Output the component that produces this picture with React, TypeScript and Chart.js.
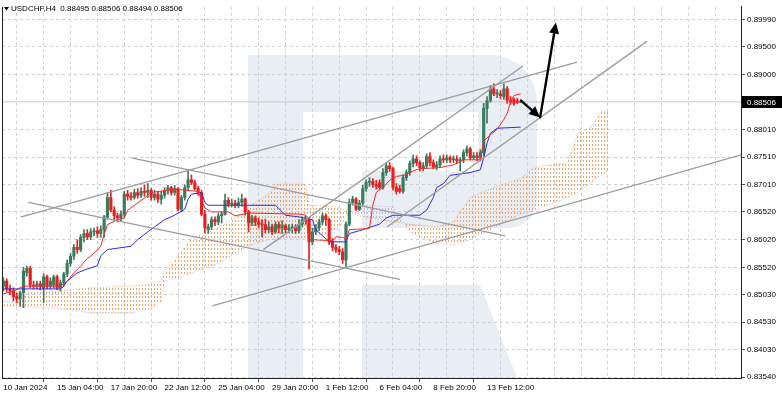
import React, { useEffect, useRef } from "react";
import { Chart, registerables } from "chart.js";

Chart.register(...registerables);

// ---------- text ----------
const titleText = "USDCHF,H4  0.88495 0.88506 0.88494 0.88506";
const timeLabels = [
  "10 Jan 2024", "15 Jan 04:00", "17 Jan 20:00", "22 Jan 12:00", "25 Jan 04:00",
  "29 Jan 20:00", "1 Feb 12:00", "6 Feb 04:00", "8 Feb 20:00", "13 Feb 12:00",
];
const labelEvery = 16;
const gridEvery = 8;
const priceTicks = [0.8999, 0.895, 0.89, 0.8801, 0.8751, 0.8701, 0.8652, 0.8602, 0.8552, 0.8503, 0.8453, 0.8403, 0.8354];
const lastPrice = 0.88506;
const xMin = -0.4;
const xMax = 219.6;
const yMin = 0.83522;
const yMax = 0.90222;

// ---------- candles (H4 bars, index 0 = 10 Jan 08:00) ----------
const opens = [
  0.8518, 0.8527, 0.8513, 0.8509, 0.8499, 0.8495, 0.8506, 0.8542, 0.8550, 0.8520,
  0.8518, 0.8522, 0.8515, 0.8535, 0.8518, 0.8520, 0.8535, 0.8515, 0.8524, 0.8540,
  0.8559, 0.8572, 0.8588, 0.8584, 0.8606, 0.8613, 0.8607, 0.8616, 0.8618, 0.8613,
  0.8620, 0.8643, 0.8678, 0.8655, 0.8645, 0.8641, 0.8648, 0.8684, 0.8680, 0.8678,
  0.8687, 0.8682, 0.8689, 0.8687, 0.8691, 0.8678, 0.8684, 0.8675, 0.8682, 0.8691,
  0.8696, 0.8687, 0.8694, 0.8657, 0.8678, 0.8696, 0.8710, 0.8705, 0.8694, 0.8687,
  0.8648, 0.8620, 0.8625, 0.8638, 0.8634, 0.8645, 0.8648, 0.8673, 0.8666, 0.8668,
  0.8664, 0.8669, 0.8675, 0.8652, 0.8632, 0.8641, 0.8634, 0.8630, 0.8629, 0.8620,
  0.8625, 0.8616, 0.8629, 0.8623, 0.8627, 0.8620, 0.8622, 0.8625, 0.8618, 0.8630,
  0.8636, 0.8638, 0.8598, 0.8616, 0.8623, 0.8634, 0.8645, 0.8638, 0.8598, 0.8588,
  0.8584, 0.8580, 0.8565, 0.8630, 0.8669, 0.8675, 0.8657, 0.8668, 0.8694, 0.8705,
  0.8707, 0.8701, 0.8705, 0.8696, 0.8723, 0.8735, 0.8730, 0.8696, 0.8694, 0.8689,
  0.8714, 0.8723, 0.8739, 0.8748, 0.8741, 0.8732, 0.8735, 0.8752, 0.8741, 0.8733,
  0.8737, 0.8748, 0.8746, 0.8750, 0.8746, 0.8748, 0.8744, 0.8746, 0.8759, 0.8766,
  0.8750, 0.8753, 0.8750, 0.8759, 0.8839, 0.8853, 0.8874, 0.8865, 0.8865, 0.8860,
  0.8874, 0.8853, 0.8855, 0.8853, 0.88495,
];
const highs = [
  0.8533, 0.8531, 0.8520, 0.8515, 0.8506, 0.8509, 0.8552, 0.8554, 0.8554, 0.8527,
  0.8527, 0.8527, 0.8540, 0.8538, 0.8533, 0.8538, 0.8538, 0.8529, 0.8543, 0.8565,
  0.8577, 0.8593, 0.8602, 0.8611, 0.8620, 0.8620, 0.8622, 0.8623, 0.8625, 0.8627,
  0.8646, 0.8687, 0.8691, 0.8661, 0.8650, 0.8654, 0.8689, 0.8691, 0.8687, 0.8693,
  0.8694, 0.8696, 0.8701, 0.8703, 0.8694, 0.8691, 0.8689, 0.8689, 0.8696, 0.8700,
  0.8698, 0.8700, 0.8696, 0.8682, 0.8701, 0.8726, 0.8719, 0.8709, 0.8698, 0.8691,
  0.8655, 0.8630, 0.8643, 0.8643, 0.8650, 0.8652, 0.8684, 0.8678, 0.8675, 0.8673,
  0.8677, 0.8684, 0.8677, 0.8655, 0.8646, 0.8645, 0.8641, 0.8638, 0.8639, 0.8634,
  0.8630, 0.8634, 0.8634, 0.8636, 0.8630, 0.8629, 0.8630, 0.8629, 0.8638, 0.8643,
  0.8645, 0.8641, 0.8623, 0.8629, 0.8639, 0.8650, 0.8648, 0.8641, 0.8604, 0.8593,
  0.8590, 0.8586, 0.8634, 0.8675, 0.8680, 0.8678, 0.8673, 0.8700, 0.8710, 0.8714,
  0.8712, 0.8709, 0.8710, 0.8730, 0.8741, 0.8741, 0.8733, 0.8703, 0.8700, 0.8719,
  0.8728, 0.8744, 0.8755, 0.8753, 0.8744, 0.8741, 0.8757, 0.8759, 0.8746, 0.8743,
  0.8753, 0.8755, 0.8755, 0.8753, 0.8753, 0.8753, 0.8750, 0.8764, 0.8771, 0.8769,
  0.8759, 0.8759, 0.8764, 0.8848, 0.8860, 0.8880, 0.8883, 0.8873, 0.8871, 0.8883,
  0.8878, 0.8860, 0.8858, 0.8857, 0.88506,
];
const lows = [
  0.8509, 0.8508, 0.8502, 0.8491, 0.8488, 0.8482, 0.8479, 0.8536, 0.8515, 0.8513,
  0.8513, 0.8511, 0.8488, 0.8513, 0.8513, 0.8515, 0.8511, 0.8509, 0.8518, 0.8535,
  0.8554, 0.8566, 0.8577, 0.8580, 0.8598, 0.8602, 0.8602, 0.8609, 0.8606, 0.8606,
  0.8606, 0.8639, 0.8652, 0.8638, 0.8634, 0.8636, 0.8643, 0.8673, 0.8673, 0.8675,
  0.8677, 0.8678, 0.8680, 0.8678, 0.8673, 0.8673, 0.8669, 0.8666, 0.8677, 0.8684,
  0.8682, 0.8682, 0.8654, 0.8652, 0.8673, 0.8691, 0.8701, 0.8691, 0.8682, 0.8645,
  0.8614, 0.8613, 0.8620, 0.8627, 0.8629, 0.8632, 0.8646, 0.8661, 0.8661, 0.8659,
  0.8659, 0.8662, 0.8646, 0.8616, 0.8627, 0.8627, 0.8623, 0.8607, 0.8614, 0.8614,
  0.8611, 0.8613, 0.8614, 0.8613, 0.8614, 0.8614, 0.8614, 0.8613, 0.8614, 0.8625,
  0.8630, 0.8549, 0.8593, 0.8611, 0.8618, 0.8629, 0.8627, 0.8593, 0.8582, 0.8579,
  0.8575, 0.8559, 0.8552, 0.8627, 0.8664, 0.8654, 0.8654, 0.8664, 0.8689, 0.8698,
  0.8696, 0.8693, 0.8693, 0.8693, 0.8718, 0.8725, 0.8691, 0.8684, 0.8686, 0.8686,
  0.8709, 0.8718, 0.8733, 0.8735, 0.8726, 0.8726, 0.8730, 0.8735, 0.8730, 0.8728,
  0.8732, 0.8741, 0.8741, 0.8741, 0.8741, 0.8739, 0.8726, 0.8741, 0.8753, 0.8746,
  0.8746, 0.8744, 0.8744, 0.8753, 0.8812, 0.8850, 0.8862, 0.8858, 0.8857, 0.8855,
  0.8848, 0.8846, 0.8844, 0.8848, 0.88494,
];
const closes = [
  0.8527, 0.8513, 0.8509, 0.8499, 0.8495, 0.8506, 0.8545, 0.8550, 0.8520, 0.8518,
  0.8522, 0.8517, 0.8535, 0.8518, 0.8527, 0.8535, 0.8515, 0.8524, 0.8540, 0.8559,
  0.8572, 0.8588, 0.8584, 0.8606, 0.8613, 0.8607, 0.8616, 0.8618, 0.8613, 0.8620,
  0.8643, 0.8678, 0.8655, 0.8645, 0.8641, 0.8648, 0.8684, 0.8680, 0.8678, 0.8687,
  0.8682, 0.8689, 0.8687, 0.8691, 0.8678, 0.8684, 0.8675, 0.8682, 0.8691, 0.8696,
  0.8687, 0.8694, 0.8657, 0.8678, 0.8696, 0.8710, 0.8705, 0.8694, 0.8687, 0.8648,
  0.8623, 0.8625, 0.8638, 0.8634, 0.8645, 0.8648, 0.8673, 0.8666, 0.8668, 0.8664,
  0.8669, 0.8675, 0.8652, 0.8632, 0.8641, 0.8634, 0.8630, 0.8629, 0.8620, 0.8625,
  0.8616, 0.8629, 0.8623, 0.8627, 0.8620, 0.8623, 0.8625, 0.8618, 0.8630, 0.8638,
  0.8639, 0.8598, 0.8616, 0.8623, 0.8634, 0.8645, 0.8638, 0.8598, 0.8588, 0.8584,
  0.8580, 0.8566, 0.8630, 0.8669, 0.8675, 0.8657, 0.8668, 0.8694, 0.8705, 0.8707,
  0.8701, 0.8698, 0.8696, 0.8723, 0.8735, 0.8730, 0.8696, 0.8689, 0.8689, 0.8714,
  0.8723, 0.8739, 0.8748, 0.8741, 0.8732, 0.8735, 0.8752, 0.8741, 0.8733, 0.8737,
  0.8748, 0.8746, 0.8750, 0.8746, 0.8748, 0.8744, 0.8746, 0.8759, 0.8766, 0.8750,
  0.8753, 0.8750, 0.8759, 0.8839, 0.8853, 0.8874, 0.8865, 0.8866, 0.8862, 0.8874,
  0.8853, 0.8850, 0.8848, 0.88495, 0.88506,
];

// ---------- Ichimoku (breakpoints by bar index) ----------
const tenkanX = [0, 3, 6, 17, 19, 21, 23, 25, 27, 29, 30, 31, 34, 36, 37, 39, 42, 44, 51, 58, 60, 62, 67, 69, 73, 88, 90, 91, 98, 99, 101, 102, 103, 109, 110, 111, 113, 115, 117, 120, 122, 124, 130, 134, 137, 142, 143, 145, 147, 149, 150, 151, 152, 154];
const tenkanY = [0.8504, 0.8509, 0.8518, 0.8518, 0.8527, 0.8542, 0.8554, 0.8568, 0.8577, 0.8590, 0.8611, 0.8629, 0.8638, 0.8641, 0.8655, 0.8664, 0.8677, 0.8687, 0.8693, 0.8689, 0.8659, 0.8652, 0.8652, 0.8645, 0.8650, 0.8648, 0.8646, 0.8602, 0.8600, 0.8607, 0.8606, 0.8602, 0.8620, 0.8622, 0.8664, 0.8687, 0.8696, 0.8709, 0.8716, 0.8719, 0.8726, 0.8730, 0.8732, 0.8737, 0.8746, 0.8746, 0.8780, 0.8791, 0.8801, 0.8819, 0.8830, 0.8851, 0.8862, 0.8865];
const kijunX = [0, 17, 18, 19, 22, 25, 28, 29, 31, 38, 40, 43, 45, 48, 51, 54, 55, 56, 59, 60, 61, 81, 84, 88, 92, 93, 97, 102, 103, 106, 108, 112, 114, 116, 124, 126, 128, 129, 131, 133, 139, 142, 143, 144, 145, 147, 154];
const kijunY = [0.8513, 0.8513, 0.8518, 0.8527, 0.8542, 0.8549, 0.8555, 0.8573, 0.8584, 0.8590, 0.8602, 0.8616, 0.8625, 0.8638, 0.8646, 0.8657, 0.8675, 0.8684, 0.8687, 0.8669, 0.8664, 0.8664, 0.8646, 0.8643, 0.8638, 0.8620, 0.8598, 0.8598, 0.8613, 0.8618, 0.8622, 0.8630, 0.8641, 0.8646, 0.8646, 0.8655, 0.8678, 0.8696, 0.8703, 0.8718, 0.8723, 0.8728, 0.8750, 0.8776, 0.8794, 0.8803, 0.8805];
const cloudX = [0, 5, 7, 17, 26, 38, 44, 47, 48, 53, 56, 62, 66, 71, 73, 79, 81, 90, 91, 99, 103, 106, 116, 121, 129, 134, 139, 145, 154, 158, 168, 171, 175, 178, 180];
const spanA = [0.8491, 0.8488, 0.8506, 0.8509, 0.8515, 0.8518, 0.8522, 0.8527, 0.8545, 0.8580, 0.8604, 0.8618, 0.8630, 0.8648, 0.8661, 0.8684, 0.8702, 0.8702, 0.8664, 0.8661, 0.8652, 0.8645, 0.8634, 0.8630, 0.8625, 0.8634, 0.8678, 0.8694, 0.8712, 0.8732, 0.8741, 0.8794, 0.8805, 0.8833, 0.8835];
const spanB = [0.8482, 0.8481, 0.8481, 0.8477, 0.8470, 0.8470, 0.8477, 0.8491, 0.8527, 0.8535, 0.8542, 0.8554, 0.8566, 0.8584, 0.8591, 0.8602, 0.8603, 0.8606, 0.8606, 0.8616, 0.8652, 0.8664, 0.8661, 0.8616, 0.8595, 0.8593, 0.8602, 0.8620, 0.8648, 0.8655, 0.8678, 0.8687, 0.8705, 0.8719, 0.8726];

// ---------- drawn objects ----------
const lineStartX = [5.1, 62.2, 38.1, 7.4, 77.4, 114.2];
const lineStartY = [0.86427, 0.84823, 0.87496, 0.86694, 0.85839, 0.86248];
const lineEndX = [170.8, 219.6, 149.4, 118.1, 154.7, 191.6];
const lineEndY = [0.89224, 0.87549, 0.86088, 0.85304, 0.89153, 0.89598];
const arrowStartX = [154.1, 159.8];
const arrowStartY = [0.88529, 0.88226];
const arrowEndX = [159.8, 164.5];
const arrowEndY = [0.88226, 0.89937];

const BULL = "#3a7b5d";
const BEAR = "#ee1c1c";
const FONT = "'Liberation Sans', Arial, sans-serif";

function makePattern(color: string) {
  const c = document.createElement("canvas");
  c.width = 3;
  c.height = 4;
  const g = c.getContext("2d")!;
  g.fillStyle = color;
  g.fillRect(1, 0, 1, 2);
  return g.createPattern(c, "repeat");
}

const watermarkPlugin = {
  id: "watermark",
  beforeDraw(chart: any) {
    const { ctx, chartArea: a } = chart;
    ctx.save();
    ctx.beginPath();
    ctx.rect(a.left, a.top, a.right - a.left, a.bottom - a.top);
    ctx.clip();
    ctx.fillStyle = "#e9eef4";
    ctx.fillRect(248, 55, 55, 340);
    ctx.beginPath();
    ctx.moveTo(303, 55);
    ctx.lineTo(490, 55);
    ctx.arcTo(537, 55, 537, 102, 47);
    ctx.lineTo(537, 200);
    ctx.arcTo(537, 228, 509, 228, 28);
    ctx.lineTo(362, 228);
    ctx.lineTo(362, 171);
    ctx.lineTo(478, 171);
    ctx.lineTo(478, 112);
    ctx.lineTo(303, 112);
    ctx.closePath();
    ctx.fill();
    ctx.beginPath();
    ctx.moveTo(362, 285);
    ctx.lineTo(480, 285);
    ctx.lineTo(520, 385);
    ctx.lineTo(362, 385);
    ctx.closePath();
    ctx.fill();
    ctx.restore();
  },
};

const overlayPlugin = {
  id: "overlay",
  afterDatasetsDraw(chart: any) {
    const { ctx, scales } = chart;
    const xs = scales.x;
    const ys = scales.y;
    ctx.save();
    ctx.strokeStyle = "#000";
    ctx.fillStyle = "#000";
    ctx.lineWidth = 2.4;
    ctx.lineCap = "round";
    for (let k = 0; k < arrowStartX.length; k++) {
      const x1 = xs.getPixelForValue(arrowStartX[k]);
      const y1 = ys.getPixelForValue(arrowStartY[k]);
      const x2 = xs.getPixelForValue(arrowEndX[k]);
      const y2 = ys.getPixelForValue(arrowEndY[k]);
      const ang = Math.atan2(y2 - y1, x2 - x1);
      const len = 11;
      const hw = 5;
      const bx = x2 - Math.cos(ang) * len;
      const by = y2 - Math.sin(ang) * len;
      ctx.beginPath();
      ctx.moveTo(x1, y1);
      ctx.lineTo(bx, by);
      ctx.stroke();
      ctx.beginPath();
      ctx.moveTo(x2, y2);
      ctx.lineTo(bx - Math.sin(ang) * hw, by + Math.cos(ang) * hw);
      ctx.lineTo(bx + Math.sin(ang) * hw, by - Math.cos(ang) * hw);
      ctx.closePath();
      ctx.fill();
    }
    ctx.restore();
  },
  afterDraw(chart: any) {
    const { ctx, chartArea: a, scales } = chart;
    ctx.save();
    ctx.strokeStyle = "#222";
    ctx.lineWidth = 1;
    ctx.beginPath();
    ctx.moveTo(a.left + 0.5, a.top);
    ctx.lineTo(a.left + 0.5, a.bottom);
    ctx.stroke();
    ctx.fillStyle = "#000";
    ctx.beginPath();
    ctx.moveTo(4, 7);
    ctx.lineTo(9, 7);
    ctx.lineTo(6.5, 10.5);
    ctx.closePath();
    ctx.fill();
    ctx.font = "8px " + FONT;
    ctx.textBaseline = "middle";
    ctx.textAlign = "left";
    ctx.fillText(titleText, 11, 9);
    const yp = Math.round(scales.y.getPixelForValue(lastPrice));
    ctx.fillStyle = "#000";
    ctx.fillRect(a.right + 1, yp - 6, 41, 12);
    ctx.fillStyle = "#fff";
    ctx.fillText(lastPrice.toFixed(5), a.right + 6, yp + 0.5);
    ctx.restore();
  },
};

export default function App() {
  const ref = useRef<HTMLCanvasElement>(null);
  useEffect(() => {
    document.body.style.margin = "0";
    const canvas = ref.current!;
    const orange = makePattern("#f4a460");
    const lilac = makePattern("#c9b3e0");

    const candleColor = opens.map((o, i) => (closes[i] >= o ? BULL : BEAR));
    const wickData = opens.map((_, i) => ({ x: i, y: [lows[i], highs[i]] }));
    const bodyData = opens.map((o, i) => ({ x: i, y: [o, closes[i]] }));

    const lineDs = (xArr: number[], yArr: number[], color: string, extra: any = {}) => ({
      type: "line",
      data: xArr.map((x, k) => ({ x, y: yArr[k] })),
      borderColor: color,
      borderWidth: 1,
      pointRadius: 0,
      tension: 0,
      fill: false,
      ...extra,
    });

    const trendSets = lineStartX.map((_, k) => ({
      type: "line",
      data: [
        { x: lineStartX[k], y: lineStartY[k] },
        { x: lineEndX[k], y: lineEndY[k] },
      ],
      borderColor: "#9c9c9c",
      borderWidth: 1.3,
      pointRadius: 0,
      fill: false,
      order: 1,
    }));

    const chart = new Chart(canvas, {
      type: "bar",
      data: {
        datasets: [
          lineDs(cloudX, spanA, "#f4a460", { borderDash: [1, 2], order: 20 }),
          lineDs(cloudX, spanB, "#c9b3e0", {
            borderDash: [1, 2],
            order: 19,
            fill: { target: "-1", above: lilac, below: orange },
          }),
          {
            type: "line",
            data: [
              { x: xMin, y: lastPrice },
              { x: xMax, y: lastPrice },
            ],
            borderColor: "#c8c8c8",
            borderWidth: 1,
            pointRadius: 0,
            fill: false,
            order: 18,
          },
          {
            type: "bar",
            data: wickData,
            backgroundColor: candleColor,
            barThickness: 1,
            grouped: false,
            minBarLength: 1,
            order: 6,
          },
          {
            type: "bar",
            data: bodyData,
            backgroundColor: candleColor,
            barThickness: 2.5,
            grouped: false,
            minBarLength: 1,
            order: 5,
          },
          lineDs(tenkanX, tenkanY, "#f42a2a", { order: 3 }),
          lineDs(kijunX, kijunY, "#2a2af2", { order: 3 }),
          ...trendSets,
        ] as any,
      },
      options: {
        responsive: false,
        animation: false,
        devicePixelRatio: 1,
        events: [],
        layout: { padding: { left: 2, top: 2, right: 0, bottom: 0 }, autoPadding: false },
        plugins: { legend: { display: false }, tooltip: { enabled: false } },
        scales: {
          x: {
            type: "linear",
            min: xMin,
            max: xMax,
            offset: false,
            afterFit: (s: any) => {
              s.height = 18;
            },
            afterBuildTicks: (s: any) => {
              const t = [];
              for (let v = 0; v <= xMax; v += gridEvery) t.push({ value: v });
              s.ticks = t;
            },
            grid: {
              color: "#cfcfcf",
              tickLength: 4,
              tickColor: (c: any) =>
                c.tick && c.tick.value % labelEvery === 0 && c.tick.value / labelEvery < timeLabels.length
                  ? "#555"
                  : "rgba(0,0,0,0)",
            },
            border: { display: true, color: "#222", width: 1, dash: [3, 3] },
            ticks: {
              autoSkip: false,
              maxRotation: 0,
              minRotation: 0,
              align: "start",
              padding: 1,
              color: "#000",
              font: { family: FONT, size: 8 },
              callback: (v: any) => (v % labelEvery === 0 ? timeLabels[v / labelEvery] ?? "" : ""),
            },
          },
          y: {
            type: "linear",
            position: "right",
            min: yMin,
            max: yMax,
            afterFit: (s: any) => {
              s.width = 41;
            },
            afterBuildTicks: (s: any) => {
              s.ticks = priceTicks.map((v) => ({ value: v }));
            },
            grid: { color: "#cfcfcf", tickLength: 4, tickColor: "#555" },
            border: { display: true, color: "#222", width: 1, dash: [3, 3] },
            ticks: {
              autoSkip: false,
              padding: 2,
              color: "#000",
              font: { family: FONT, size: 8 },
              callback: (v: any) => Number(v).toFixed(5),
            },
          },
        },
      } as any,
      plugins: [watermarkPlugin, overlayPlugin],
    });
    return () => chart.destroy();
  }, []);
  return (
    <canvas
      ref={ref}
      width={782}
      height={396}
      style={{ display: "block", width: 782, height: 396 }}
    />
  );
}
